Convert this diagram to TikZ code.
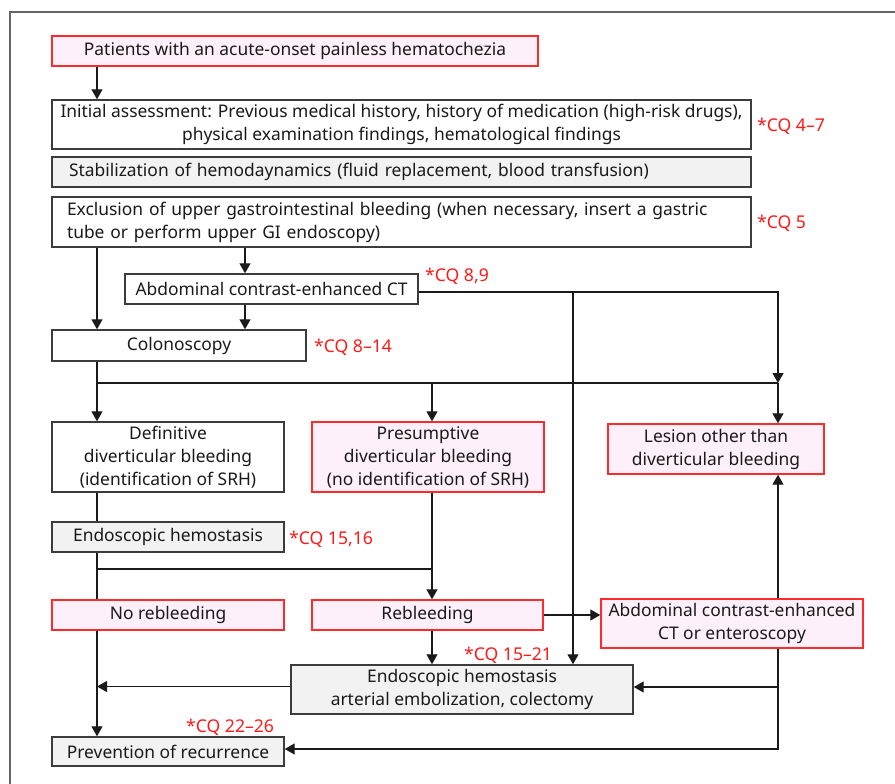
\documentclass[tikz,border=0pt]{standalone}
\usepackage{fontspec}
\setmainfont{Noto Sans}
\usetikzlibrary{arrows.meta,calc}
\definecolor{redb}{HTML}{FF2A2A}
\definecolor{pinkf}{HTML}{FDF0FB}
\definecolor{grayf}{HTML}{F2F2F2}
\definecolor{txt}{HTML}{1A1A1A}
\definecolor{cq}{HTML}{FF1A1A}
\tikzset{
  box/.style={draw=txt!85, line width=1.4pt, fill=white, inner sep=0pt, align=center, text=txt, font=\fontsize{17.4}{23}\selectfont},
  redbox/.style={box, draw=redb, fill=pinkf},
  graybox/.style={box, fill=grayf},
  conn/.style={line width=1.3pt, draw=txt},
  arr/.style={conn, -{Triangle[length=10pt,width=11pt]}},
  cqlab/.style={text=cq, anchor=west, inner sep=0pt, font=\fontsize{17.6}{20}\selectfont},
}
\begin{document}
\begin{tikzpicture}[x=1pt,y=-1pt]
\useasboundingbox (0,0) rectangle (895,784);
\draw[line width=1.3pt, draw=black!60] (10,784) -- (10,12) -- (895,12);
% columns
\coordinate (c1) at (97,0);
\coordinate (c2) at (245,0);
\coordinate (c3) at (432,0);
\coordinate (c4) at (573,0);
\coordinate (c5) at (778,0);
% boxes
\node[redbox, minimum width=486pt, minimum height=30pt] (pat) at (295,51) {Patients with an acute-onset painless hematochezia};
\node[box, minimum width=699pt, minimum height=49pt] (init) at (401.5,124.5) {Initial assessment: Previous medical history, history of medication (high-risk drugs),\\physical examination findings, hematological findings};
\node[graybox, minimum width=699pt, minimum height=30pt, text width=665pt, align=left] (stab) at (401.5,172) {Stabilization of hemodaynamics (fluid replacement, blood transfusion)};
\node[box, minimum width=699pt, minimum height=50pt, text width=669pt, align=left] (excl) at (401.5,222) {Exclusion of upper gastrointestinal bleeding (when necessary, insert a gastric\\tube or perform upper GI endoscopy)};
\node[box, minimum width=293pt, minimum height=30pt] (ct) at (271.5,289) {Abdominal contrast-enhanced CT};
\node[box, minimum width=254pt, minimum height=31pt] (colo) at (179,345.5) {Colonoscopy};
\node[box, minimum width=232pt, minimum height=70pt] (defi) at (168,457) {Definitive\\diverticular bleeding\\(identification of SRH)};
\node[redbox, minimum width=232pt, minimum height=70pt] (pres) at (428,457) {Presumptive\\diverticular bleeding\\(no identification of SRH)};
\node[redbox, minimum width=216pt, minimum height=50pt] (les) at (716,449) {Lesion other than\\diverticular bleeding};
\node[graybox, minimum width=232pt, minimum height=30pt] (endo) at (168,537) {Endoscopic hemostasis};
\node[redbox, minimum width=232pt, minimum height=30pt] (norb) at (168,615) {No rebleeding};
\node[redbox, minimum width=231pt, minimum height=30pt] (reb) at (427.5,615) {Rebleeding};
\node[redbox, minimum width=262pt, minimum height=49pt] (ctent) at (732,623.5) {Abdominal contrast-enhanced\\CT or enteroscopy};
\node[graybox, minimum width=342pt, minimum height=49pt] (emb) at (462,689.5) {Endoscopic hemostasis\\arterial embolization, colectomy};
\node[graybox, minimum width=232pt, minimum height=29pt] (prev) at (168,751.5) {Prevention of recurrence};
% labels
\node[cqlab] (l1) at (757,126) {*CQ 4–7};
\node[cqlab] (l2) at (757,223) {*CQ 5};
\node[cqlab] (l3) at (425,276) {*CQ 8,9};
\node[cqlab] (l4) at (314,347) {*CQ 8–14};
\node[cqlab] (l5) at (289,539) {*CQ 15,16};
\node[cqlab] (l6) at (464,655) {*CQ 15–21};
\node[cqlab] (l7) at (186,727) {*CQ 22–26};
% junctions
\coordinate (j1) at (97,383);
\coordinate (j2) at (97,569);
% connectors
\draw[arr] (pat.south -| c1) -- (init.north -| c1);
\draw[arr] (excl.south -| c2) -- (ct.north -| c2);
\draw[arr] (excl.south -| c1) -- (colo.north -| c1);
\draw[arr] (ct.south -| c2) -- (colo.north -| c2);
\draw[arr] ($(ct.east)+(0,3)$) -| (j1 -| c5);
\draw[arr] ($(ct.east -| c4)+(0,3)$) -- (emb.north -| c4);
\draw[conn] (colo.south -| c1) -- (j1) -- (j1 -| c5);
\draw[arr] (j1) -- (defi.north -| c1);
\draw[arr] (j1 -| c3) -- (pres.north -| c3);
\draw[arr] (j1 -| c5) -- (les.north -| c5);
\draw[conn] (defi.south -| c1) -- (endo.north -| c1);
\draw[conn] (endo.south -| c1) -- (norb.north -| c1);
\draw[conn] (j2) -- (j2 -| c3);
\draw[arr] (pres.south -| c3) -- (reb.north -| c3);
\draw[arr] (reb.east) -- (reb.east -| ctent.west);
\draw[arr] (ctent.north -| c5) -- (les.south -| c5);
\draw[arr] (ctent.south -| c5) |- ($(prev.east)+(0,-2.5)$);
\draw[arr] ($(emb.east -| c5)+(0,-2.5)$) -- ($(emb.east)+(0,-2.5)$);
\draw[arr] (reb.south -| c3) -- (emb.north -| c3);
\draw[arr] ($(emb.west)+(0,-3)$) -- ($(emb.west -| c1)+(0,-3)$);
\draw[arr] (norb.south -| c1) -- (prev.north -| c1);
\end{tikzpicture}
\end{document}
